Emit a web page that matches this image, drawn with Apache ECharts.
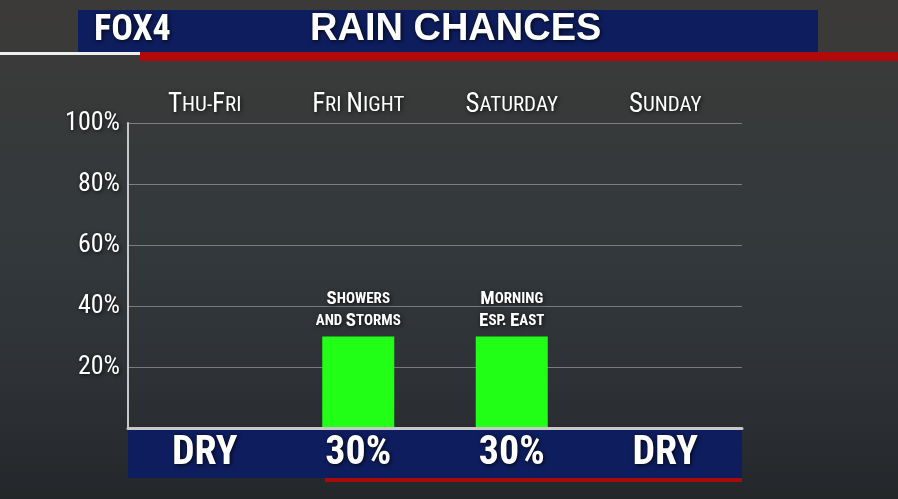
<!DOCTYPE html>
<html><head><meta charset="utf-8">
<script src="https://cdn.jsdelivr.net/npm/echarts@6/dist/echarts.min.js"></script>
<style>html,body{margin:0;padding:0;background:#2d2f31}#c{width:898px;height:499px}</style>
</head><body><div id="c"></div>
<script>
const categories = ['Thu-Fri', 'Fri Night', 'Saturday', 'Sunday'];
const values = [0, 30, 30, 0];
const bottomLabels = ['DRY', '30%', '30%', 'DRY'];
const barNotes = ['', 'Showers\nand Storms', 'Morning\nEsp. East', ''];
const yTicks = [20, 40, 60, 80, 100];

const F = '"Liberation Sans Narrow","Roboto Condensed","Liberation Sans",Arial,sans-serif';
const shadow = {textShadowColor:'rgba(0,0,0,0.8)', textShadowBlur:4, textShadowOffsetX:1, textShadowOffsetY:1};
function smallCaps(s){
  return s.split('\n').map(line => {
    let out = '', cur = null, buf = '';
    for (const ch of line) {
      const k = (ch !== ch.toLowerCase()) ? 'b' : 's';
      if (k !== cur) { if (buf) out += '{'+cur+'|'+buf+'}'; cur = k; buf = ''; }
      buf += ch.toUpperCase();
    }
    if (buf) out += '{'+cur+'|'+buf+'}';
    return out;
  }).join('\n');
}
const chart = echarts.init(document.getElementById('c'));
chart.setOption({
  backgroundColor: {type:'linear',x:0,y:0,x2:0,y2:1,colorStops:[
    {offset:0,color:'#3b3a38'},{offset:0.45,color:'#34393c'},{offset:0.75,color:'#2e3236'},{offset:1,color:'#24272a'}]},
  grid: {left:128, right:156, top:123, bottom:71},
  graphic: [
    {type:'rect', shape:{x:78,y:10,width:740,height:43}, style:{fill:'#0e1d5e'}},
    {type:'rect', shape:{x:140,y:52,width:758,height:9}, style:{fill:'#b00a0a'}},
    {type:'rect', shape:{x:0,y:52,width:140,height:3}, style:{fill:'#eeeeee'}},
    {type:'text', left:94, top:13, style:{text:'FOX4', fill:'#fff', font:'bold 36px '+F, ...shadow}},
    {type:'text', left:310, top:11, style:{text:'RAIN CHANCES', fill:'#fff', font:'bold 38px "Liberation Sans",Arial,sans-serif', ...shadow}},
    {type:'rect', shape:{x:128,y:428,width:614,height:50}, style:{fill:'#0e1d5e'}, z:5},
    {type:'rect', shape:{x:325,y:478,width:417,height:4}, style:{fill:'#a80a0a'}, z:5}
  ],
  xAxis: [
    {type:'category', data:bottomLabels, position:'bottom', axisTick:{show:false},
     axisLine:{show:true, lineStyle:{color:'#c8c8c8', width:3}}, z:10,
     axisLabel:{interval:0, color:'#fff', fontSize:40, fontWeight:'bold', fontFamily:F, margin:6, ...shadow}},
    {type:'category', data:categories, position:'top', axisTick:{show:false}, axisLine:{show:false},
     axisLabel:{interval:0, margin:4, formatter: v => smallCaps(v),
       rich:{b:{color:'#fff',fontSize:27,fontFamily:F,...shadow}, s:{color:'#fff',fontSize:21,fontFamily:F,...shadow}}}}
  ],
  yAxis: {type:'value', min:0, max:100, interval:20,
    axisLine:{show:true, lineStyle:{color:'#c8c8c8', width:2}},
    splitLine:{lineStyle:{color:'rgba(210,210,210,0.45)', width:1}},
    axisLabel:{color:'#fff', fontSize:26, fontFamily:F, margin:8, ...shadow,
      formatter: v => yTicks.includes(v) ? v+'%' : ''}},
  series: [{type:'bar', data:values, barWidth:72, itemStyle:{color:'#22ff17'},
    label:{show:true, position:'top', distance:4, lineHeight:22,
      formatter: p => barNotes[p.dataIndex] ? smallCaps(barNotes[p.dataIndex]) : '',
      rich:{b:{color:'#fff',fontSize:19,fontWeight:'bold',fontFamily:F,lineHeight:22,...shadow},
            s:{color:'#fff',fontSize:15,fontWeight:'bold',fontFamily:F,lineHeight:22,...shadow}}}}]
});
</script></body></html>
